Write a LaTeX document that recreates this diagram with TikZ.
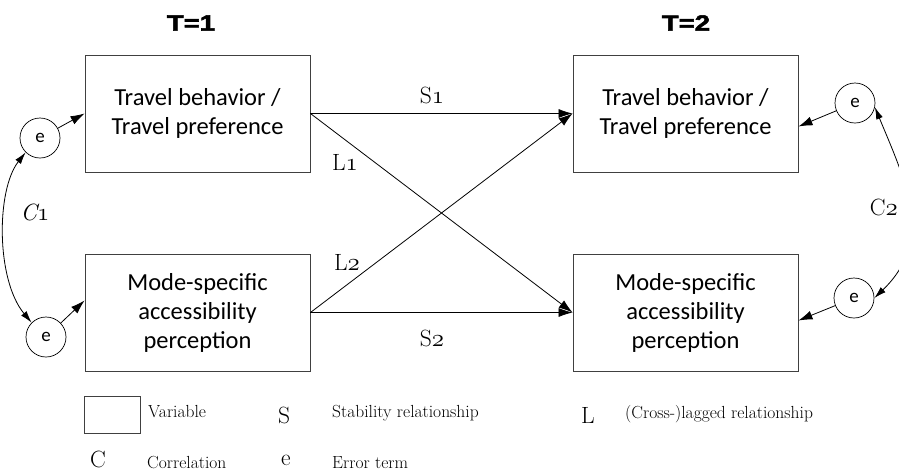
\documentclass[tikz,border=0pt]{standalone}
\usepackage{fontspec}
\usetikzlibrary{arrows.meta}
\newfontfamily\carlito{Carlito}
\newfontfamily\heavy[BoldFeatures={FakeBold=2.5,FakeStretch=1.25}]{Liberation Sans}
\tikzset{
  varbox/.style={draw=black!75, line width=0.9pt, minimum width=225pt, minimum height=117pt, inner sep=0pt, align=center, font=\carlito\fontsize{24.5}{29}\selectfont},
  errc/.style={draw, circle, line width=0.7pt, minimum size=40pt, inner sep=0pt, font=\carlito\fontsize{19}{19}\selectfont},
  arr/.style={line width=0.8pt, -{Latex[length=14pt,width=9pt]}},
  darr/.style={line width=0.8pt, {Latex[length=12pt,width=7pt]}-{Latex[length=12pt,width=7pt]}},
  lbl/.style={font=\fontsize{23.5}{23.5}\selectfont, inner sep=0pt},
  legt/.style={font=\fontsize{17.5}{17.5}\selectfont, anchor=west, inner sep=0pt},
  head/.style={font=\heavy\bfseries\fontsize{22}{22}\selectfont, inner sep=0pt}
}
\begin{document}
\begin{tikzpicture}[x=1pt,y=-1pt]
\useasboundingbox (0,0) rectangle (899,472);
% headers
\node[head] (t1) at (191,23) {T=1};
\node[head] (t2) at (686,23) {T=2};
% variable boxes
\node[varbox] (b1) at (197.5,113.5) {Travel behavior /\\Travel preference};
\node[varbox] (b3) at (197.5,312.5) {Mode-specific\\accessibility\\perception};
\node[varbox] (b2) at (685.5,113.5) {Travel behavior /\\Travel preference};
\node[varbox] (b4) at (685.5,312.5) {Mode-specific\\accessibility\\perception};
% error terms
\node[errc] (e1) at (40,138) {e};
\node[errc] (e3) at (46,337) {e};
\node[errc] (e2) at (855,103) {e};
\node[errc] (e4) at (854,298) {e};
% error arrows
\draw[arr] (e1) -- (b1.west);
\draw[arr] (e3) -- ([yshift=12pt]b3.west);
\draw[arr] (e2) -- ([yshift=-13pt]b2.east);
\draw[arr] (e4) -- ([yshift=-8pt]b4.east);
% path arrows
\draw[arr] (b1.east) -- (b2.west);
\draw[arr] (b1.east) -- (b4.west);
\draw[arr] (b3.east) -- (b4.west);
\draw[arr] (b3.east) -- (b2.west);
% correlations
\draw[darr] (e1.225) .. controls (-4,190) and (-4,280) .. (e3.135);
\draw[darr] (e2.-12) .. controls (905,180) and (935,240) .. (e4.0);
% labels
\node[lbl] (s1) at (432,95) {S$\mathnormal{1}$};
\node[lbl] (l1) at (345,162) {L$\mathnormal{1}$};
\node[lbl] (l2) at (347,262) {L$\mathnormal{2}$};
\node[lbl] (s2) at (432,338) {S$\mathnormal{2}$};
\node[lbl] (c1) at (35,212) {\itshape C$\mathnormal{1}$};
\node[lbl, anchor=east] (c2) at (898,207) {C$\mathnormal{2}$};
% legend
\node[draw=black!75, line width=0.9pt, minimum width=56pt, minimum height=37pt, inner sep=0pt] (lgbox) at (112,414.5) {};
\node[legt] (lgvar) at (148,412) {Variable};
\node[lbl] (lgS) at (284,415) {S};
\node[legt] (lgSt) at (332,413) {Stability relationship};
\node[lbl] (lgL) at (588,415) {L};
\node[legt] (lgLt) at (625,414) {(Cross-)lagged relationship};
\node[lbl] (lgC) at (98,459) {C};
\node[legt] (lgCt) at (147,463) {Correlation};
\node[lbl] (lge) at (286,460) {e};
\node[legt] (lget) at (332,463) {Error term};
\end{tikzpicture}
\end{document}
